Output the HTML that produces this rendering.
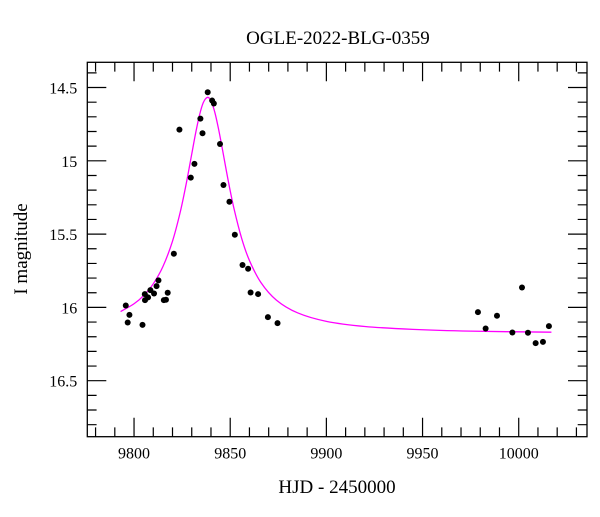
<!DOCTYPE html>
<html><head><meta charset="utf-8"><style>
body{margin:0;background:#fff}
svg text{font-family:"Liberation Serif",serif;fill:#000}
</style></head><body>
<svg id="chart" width="600" height="512" viewBox="0 0 600 512" xmlns="http://www.w3.org/2000/svg">
<text x="338" y="44" font-size="19" text-anchor="middle">OGLE-2022-BLG-0359</text>
<text x="337" y="493" font-size="19" text-anchor="middle">HJD - 2450000</text>
<text x="0" y="0" font-size="19" text-anchor="middle" transform="translate(27,249) rotate(-90)">I magnitude</text>
<g id="ticks"></g>
<g id="curve"></g>
<g id="pts"></g>
<rect x="87.3" y="62.3" width="499.7" height="374.4" fill="none" stroke="#000" stroke-width="1.3"/>
</svg>
<script>
const hjd=[9795.7,9797.6,9796.7,9804.4,9805.6,9805.7,9807.3,9808.5,9810.4,9811.7,9812.7,9815.5,9816.6,9817.5,9820.7,9823.6,9829.5,9831.4,9834.5,9835.6,9838.3,9840.6,9841.5,9844.7,9846.5,9849.6,9852.4,9856.4,9859.3,9860.6,9864.5,9869.6,9874.6,9978.8,9982.8,9988.7,9996.7,10001.7,10004.8,10008.8,10012.6,10015.7];
const imag=[15.987,16.051,16.103,16.119,15.909,15.950,15.932,15.882,15.905,15.855,15.816,15.950,15.948,15.900,15.634,14.787,15.115,15.021,14.712,14.812,14.532,14.589,14.609,14.885,15.165,15.279,15.504,15.711,15.736,15.898,15.909,16.066,16.107,16.032,16.144,16.057,16.171,15.864,16.173,16.244,16.235,16.128];
const modelT=[9793,9800,9805,9810,9815,9820,9824,9827,9830,9832,9834,9836,9838.2,9840,9842,9844,9846,9849,9852,9856,9860,9866,9874,9885,9900,9920,9945,9975,10017];
const modelMag=[16.028,15.975,15.919,15.839,15.722,15.548,15.351,15.165,14.954,14.813,14.690,14.603,14.567,14.591,14.669,14.787,14.925,15.138,15.328,15.531,15.680,15.831,15.950,16.037,16.095,16.130,16.150,16.162,16.169];
const xTickLabels=[9800,9850,9900,9950,10000];
const yTickLabels=[14.5,15,15.5,16,16.5];
const X0=9775.7,X1=10035.5,Y0=14.328,Y1=16.882;
const L=87.3,R=587,T=62.3,B=436.7;
const sx=v=>L+(v-X0)/(X1-X0)*(R-L);
const sy=v=>T+(v-Y0)/(Y1-Y0)*(B-T);
const NS="http://www.w3.org/2000/svg";
function mk(tag,parent,attrs){const e=document.createElementNS(NS,tag);for(const k in attrs)e.setAttribute(k,attrs[k]);parent.appendChild(e);return e;}
const tg=document.getElementById('ticks');
let d="";
for(let v=9780;v<=10030;v+=10){const x=sx(v);const maj=v%50===0;const l=maj?19:9.3;d+=`M${x} ${B}v${-l}M${x} ${T}v${l}`;}
for(let i=0;i<=25;i++){const v=14.4+i*0.1;if(v>Y1)break;const y=sy(v);const maj=Math.abs(v*2-Math.round(v*2))<1e-6;const l=maj?19:9.3;d+=`M${L} ${y}h${l}M${R} ${y}h${-l}`;}
const tp=mk('path',tg,{d:d,stroke:'#000','stroke-width':1.2,fill:'none'});


xTickLabels.forEach(v=>{const t=mk('text',tg,{x:sx(v),y:B+22,'font-size':16,'text-anchor':'middle'});t.textContent=v;

});
yTickLabels.forEach(v=>{const t=mk('text',tg,{x:L-10,y:sy(v)+6,'font-size':16,'text-anchor':'end'});t.textContent=v;

});
const P=modelT.map((t,i)=>[sx(t),sy(modelMag[i])]);
let cd=`M${P[0][0]} ${P[0][1]}`;
for(let i=0;i<P.length-1;i++){const p0=P[Math.max(0,i-1)],p1=P[i],p2=P[i+1],p3=P[Math.min(P.length-1,i+2)];
cd+=`C${p1[0]+(p2[0]-p0[0])/6} ${p1[1]+(p2[1]-p0[1])/6} ${p2[0]-(p3[0]-p1[0])/6} ${p2[1]-(p3[1]-p1[1])/6} ${p2[0]} ${p2[1]}`;}
const cp=mk('path',document.getElementById('curve'),{d:cd,stroke:'#ff00ff','stroke-width':1.3,fill:'none'});


const pg=document.getElementById('pts');
hjd.forEach((t,i)=>{const c=mk('circle',pg,{cx:sx(t),cy:sy(imag[i]),r:3,fill:'#000'});

});
</script>
</body></html>
